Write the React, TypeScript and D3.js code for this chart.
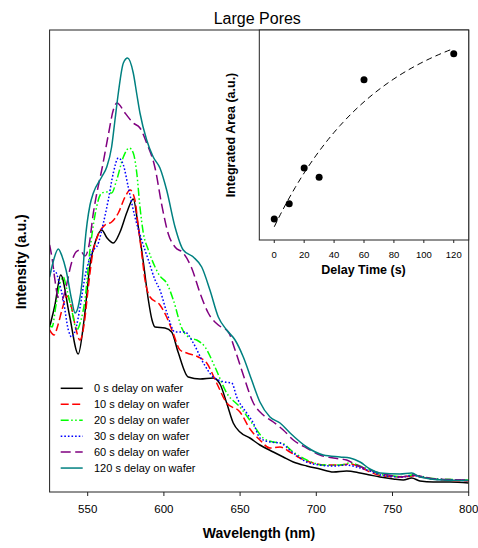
import React from 'react';
import * as d3 from 'd3';

type Pt = [number, number];

// main chart: photoluminescence spectra (wavelength nm, intensity a.u.)
const wavelengthTicks = [550, 600, 650, 700, 750, 800];

const delay0: Pt[] = [
  [525, 165], [528.5, 187], [532.3, 217], [538, 177], [543.8, 138], [547.6, 172], [551.5, 227],
  [555.4, 252], [559.2, 262], [562.7, 254], [566.8, 249], [571.2, 260], [575.8, 280], [579.9, 293],
  [583.2, 265], [586.5, 230], [589.8, 192], [592.2, 172], [594.2, 165], [600.7, 164], [605.1, 160],
  [609.3, 140], [616, 115], [623.7, 113], [632.4, 114], [636.8, 108], [641.2, 89], [645.5, 69],
  [649.9, 60], [656.4, 54], [663, 47], [671.8, 40], [678.3, 35], [684.9, 30], [693.7, 26],
  [702.4, 23], [711.2, 20], [719.9, 21], [728.7, 19], [735.2, 17], [741.8, 15], [750.5, 13],
  [757.1, 12], [762.6, 14], [768, 11], [776.8, 10], [787.7, 10], [800, 9],
];

const delay10: Pt[] = [
  [525, 162], [527.9, 157], [530.5, 167], [533.1, 182], [536.4, 196], [539, 187], [541.7, 167],
  [544.9, 152], [547.6, 167], [550.2, 202], [552.8, 234], [556.8, 257], [561.4, 267], [565.7, 270],
  [570.1, 279], [574.5, 295], [577.8, 302], [581, 292], [583.2, 265], [585.4, 239], [587.6, 212],
  [590.9, 195], [597.4, 187], [601.8, 175], [606, 159], [610.6, 142], [615, 139], [622.6, 135],
  [628.1, 129], [634.6, 109], [641.2, 89], [649.9, 80], [656.5, 63], [663, 52], [669.6, 44],
  [676.2, 45], [682.7, 40], [689.3, 34], [698, 29], [706.8, 27], [715.5, 27], [722.1, 28],
  [728.7, 25], [735.2, 20], [744, 16], [757.1, 15], [762.6, 16], [776.8, 13], [800, 11],
];

const delay20: Pt[] = [
  [525, 167], [526.6, 165], [529.2, 187], [531.8, 209], [534, 215], [536.4, 202], [539.5, 182],
  [542.8, 162], [545.6, 172], [548.2, 192], [551.5, 242], [554.8, 277], [559.2, 299], [562.5, 300],
  [565.7, 299], [569, 312], [573.4, 335], [577.3, 344], [579.9, 339], [582.2, 319], [584.3, 285],
  [586.5, 259], [589.8, 242], [594.2, 225], [597.4, 216], [601.8, 209], [606.2, 192], [611.7, 164],
  [617.1, 154], [621.5, 152], [627, 145], [633.5, 125], [641.2, 99], [649.9, 85], [658.7, 67],
  [665.2, 54], [671.8, 50], [677.3, 49], [684.9, 40], [693.7, 32], [704.6, 27], [715.6, 27],
  [722.1, 29], [728.7, 26], [735.2, 22], [743.8, 17], [757, 15.5], [762.6, 17], [776.6, 13.5],
  [800, 12],
];

const delay30: Pt[] = [
  [525, 220], [528.5, 221], [531.2, 210], [534, 192], [537.3, 162], [539.5, 155], [542.8, 167],
  [544.9, 184], [548.2, 215], [552.6, 239], [557, 249], [560, 267], [563.5, 292], [566.8, 319],
  [570.1, 334], [573.4, 327], [576.6, 305], [581, 275], [585.4, 252], [589.8, 232], [594.2, 212],
  [597.4, 202], [601.8, 180], [607.3, 160], [613.8, 160], [619.3, 149], [625.9, 129], [632.4, 115],
  [640.1, 110], [644.5, 109], [647.8, 95], [654.3, 79], [658.7, 69], [663, 54], [669.6, 50],
  [676.2, 49], [684.9, 39], [693.7, 30], [702.4, 27], [711.2, 26], [719.9, 27], [726.5, 25],
  [735.2, 21], [743.8, 16.5], [757, 15], [762.6, 16.5], [776.6, 13], [800, 11.5],
];

const delay60: Pt[] = [
  [525, 247], [526.6, 234], [528.5, 212], [530.5, 195], [533.1, 192], [535.8, 205], [539, 227],
  [542.3, 240], [544.9, 242], [548.2, 236], [550.9, 247], [553.7, 279], [556.4, 302], [559.2, 322],
  [563.5, 357], [566.8, 382], [569.2, 389], [574.5, 379], [579.9, 369], [584.3, 364], [588.7, 349],
  [594.2, 324], [598.6, 287], [602.9, 258], [607.3, 245], [612.7, 239], [618.2, 224], [623.7, 199],
  [629.1, 179], [635.7, 167], [642.3, 160], [646.7, 142], [652.1, 117], [658.7, 89], [665.2, 77],
  [671.8, 70], [678.3, 62], [684.9, 52], [693.7, 44], [702.4, 37], [711.2, 34], [719.9, 32],
  [726.5, 27], [735.2, 22], [743.8, 18], [757, 15.3], [762.6, 17], [776.6, 13.3], [800, 12],
];

const delay120: Pt[] = [
  [525, 215], [527.3, 230], [530.7, 243], [533.1, 236], [535.8, 222], [539.5, 192], [541.7, 179],
  [544.3, 189], [546.3, 210], [548.2, 249], [551.5, 287], [553.7, 299], [559.2, 315], [562.5, 325],
  [565.7, 345], [567.9, 372], [570.1, 399], [573.4, 429], [576.2, 434], [579.9, 419], [582.3, 397],
  [584.3, 379], [588.7, 352], [593, 335], [597.4, 324], [601.8, 302], [607.3, 265], [612.7, 242],
  [619.3, 235], [624.8, 225], [630.2, 202], [635.7, 175], [641.2, 162], [646.7, 152], [652.1, 135],
  [657.6, 112], [663, 90], [669.6, 75], [676.2, 69], [682.8, 59], [693.7, 45], [704.6, 37],
  [715.6, 35], [722.1, 34], [728.7, 30], [735.2, 23], [741.8, 19], [754.9, 18], [762.6, 19],
  [768, 15], [783.3, 12], [800, 11.5],
];

const seriesData = [delay0, delay10, delay20, delay30, delay60, delay120];
const seriesLabels = [
  '0 s delay on wafer',
  '10 s delay on wafer',
  '20 s delay on wafer',
  '30 s delay on wafer',
  '60 s delay on wafer',
  '120 s delay on wafer',
];

// inset: integrated area vs delay
const delayTicks = [0, 20, 40, 60, 80, 100, 120];
const delayTimes = [0, 10, 20, 30, 60, 120];
const integratedArea = [10.0, 17.3, 34.3, 29.9, 76.3, 88.7];
// exponential rise fit  a0 + amp * (1 - exp(-t / tau))
const fitA0 = 6.3;
const fitAmp = 103.8;
const fitTau = 70.5;

const colors = ['#000000', '#ff0000', '#00ff00', '#0000ff', '#800080', '#008080'];
const dashes = ['none', '8,3.5', '8,2.5,1.5,2.5,1.5,2.5', '1.6,2', '10,4.5', 'none'];

const font = '"Liberation Sans", Arial, sans-serif';

export default function App() {
  const left = 49.6, right = 468.7, top = 30, bottom = 492;
  const x = d3.scaleLinear().domain([525, 800]).range([left, right]);
  const y = d3.scaleLinear().domain([0, 462]).range([bottom, top]);
  const line = d3.line<Pt>().x(d => x(d[0])).y(d => y(d[1])).curve(d3.curveMonotoneX);

  const iLeft = 259.3, iBottom = 240;
  const ix = d3.scaleLinear().domain([-10, 130]).range([iLeft, right]);
  const iy = d3.scaleLinear().domain([0, 100]).range([iBottom, top]);
  const fitPts: Pt[] = d3.range(0, 120.01, 2).map(t => [t, fitA0 + fitAmp * (1 - Math.exp(-t / fitTau))]);
  const fitLine = d3.line<Pt>().x(d => ix(d[0])).y(d => iy(d[1]));

  const legendY = 388.3;
  const legendStep = 15.95;

  return (
    <svg width={478} height={548} style={{ position: 'absolute', left: 0, top: 0, background: '#fff' }}
      fontFamily={font}>
      <defs>
        <clipPath id="plotClip">
          <rect x={left} y={top} width={right - left} height={bottom - top} />
        </clipPath>
      </defs>

      <text x={257.3} y={23.5} fontSize={16} textAnchor="middle">Large Pores</text>

      <g clipPath="url(#plotClip)">
        {seriesData.map((s, i) => (
          <path key={i} d={line(s) || ''} fill="none" stroke={colors[i]} strokeWidth={1.5}
            strokeDasharray={dashes[i]} />
        ))}
      </g>

      <rect x={left} y={top} width={right - left} height={bottom - top} fill="none" stroke="#222" strokeWidth={1} />

      {wavelengthTicks.map(t => (
        <g key={t}>
          <line x1={x(t)} x2={x(t)} y1={bottom} y2={bottom + 4} stroke="#222" />
          <text x={x(t)} y={513} fontSize={11.5} textAnchor="middle">{t}</text>
        </g>
      ))}
      <text x={259} y={537.5} fontSize={14} fontWeight="bold" textAnchor="middle">Wavelength (nm)</text>
      <text transform="translate(25.5,261.7) rotate(-90)" fontSize={14} fontWeight="bold" textAnchor="middle">
        Intensity (a.u.)
      </text>

      {seriesLabels.map((lab, i) => (
        <g key={lab}>
          <line x1={60.7} x2={82.7} y1={legendY + i * legendStep} y2={legendY + i * legendStep}
            stroke={colors[i]} strokeWidth={1.5} strokeDasharray={dashes[i]} />
          <text x={94} y={legendY + i * legendStep + 4} fontSize={11}>{lab}</text>
        </g>
      ))}

      {/* inset */}
      <rect x={iLeft} y={top} width={right - iLeft} height={iBottom - top} fill="#fff" stroke="#222" strokeWidth={1} />
      <path d={fitLine(fitPts) || ''} fill="none" stroke="#000" strokeWidth={1} strokeDasharray="6,4" />
      {delayTimes.map((t, i) => (
        <circle key={t} cx={ix(t)} cy={iy(integratedArea[i])} r={3.5} fill="#000" />
      ))}
      {delayTicks.map(t => (
        <g key={t}>
          <line x1={ix(t)} x2={ix(t)} y1={iBottom} y2={iBottom + 3} stroke="#222" />
          <text x={ix(t)} y={257.5} fontSize={9.5} textAnchor="middle">{t}</text>
        </g>
      ))}
      <text x={363.5} y={274} fontSize={12.5} fontWeight="bold" textAnchor="middle">Delay Time (s)</text>
      <text transform="translate(234.5,135) rotate(-90)" fontSize={12.5} fontWeight="bold" textAnchor="middle">
        Integrated Area (a.u.)
      </text>
    </svg>
  );
}
